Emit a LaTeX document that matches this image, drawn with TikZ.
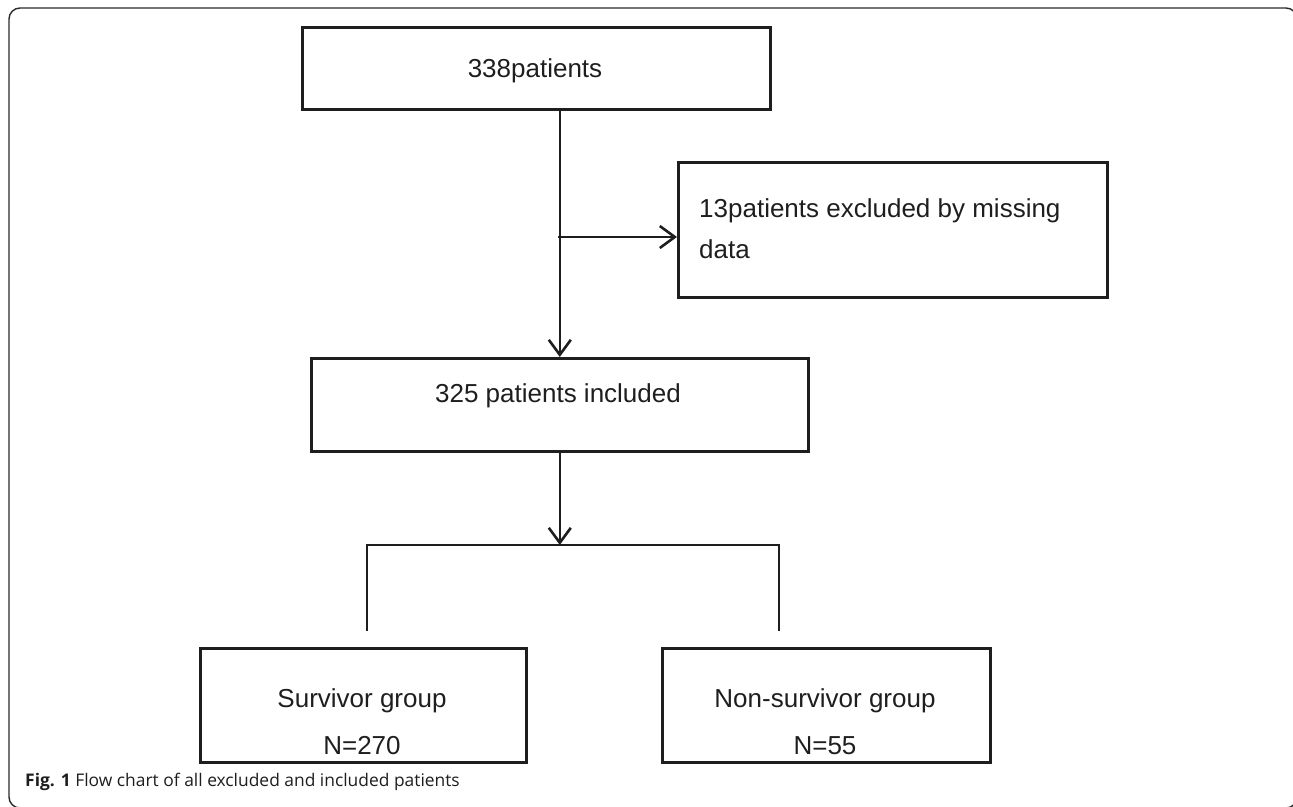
\documentclass[tikz,border=0pt]{standalone}
\usepackage{fontspec}
\setmainfont{Liberation Sans}
\newfontfamily\capfont{Open Sans}
\usetikzlibrary{arrows.meta}
\definecolor{ink}{HTML}{1E1E1E}
\definecolor{framec}{HTML}{2A2A2A}
\begin{document}
\begin{tikzpicture}[x=1pt,y=-1pt,
  box/.style={draw=ink, line width=2.6pt, inner sep=0pt, anchor=north west},
  txt/.style={text=ink, font=\fontsize{26}{30}\selectfont, anchor=base, inner sep=0pt},
  ltxt/.style={txt, anchor=base west},
  conn/.style={draw=ink, line width=2.6pt},
  arr/.style={conn, -{Straight Barb[length=15pt,width=22pt,line width=2.6pt]}}]
\useasboundingbox (0,0) rectangle (1293,806);
\clip (0,0) rectangle (1293,806);
\draw[framec, line width=1.4pt, rounded corners=11pt] (9,8) rectangle (1297,808);

% boxes
\node[box, minimum width=468pt, minimum height=82pt]  (b1) at (301,26) {};
\node[box, minimum width=429pt, minimum height=135pt] (b2) at (677,161) {};
\node[box, minimum width=497pt, minimum height=93pt]  (b3) at (310,357) {};
\node[box, minimum width=326pt, minimum height=114pt] (b4) at (199,647) {};
\node[box, minimum width=328pt, minimum height=114pt] (b5) at (661,647) {};

% texts
\node[txt]  (t1)  at (535,77)  {338patients};
\node[ltxt] (t2a) at (699,217) {13patients excluded by missing};
\node[ltxt] (t2b) at (699,258) {data};
\node[txt]  (t3)  at (558,402) {325 patients included};
\node[txt]  (t4a) at (362,707) {Survivor group};
\node[txt]  (t4b) at (362,754) {N=270};
\node[txt]  (t5a) at (825,707) {Non-survivor group};
\node[txt]  (t5b) at (825,754) {N=55};
\node[anchor=base west, inner sep=0pt, text=ink, font=\capfont\fontsize{17.4}{20}\selectfont] (cap) at (25,786)
  {\textbf{Fig. 1} Flow chart of all excluded and included patients};

% connectors
\coordinate (jn) at (558,237);
\coordinate (bl) at (367,545);
\coordinate (brr) at (779,545);
\coordinate (bld) at (367,631);
\coordinate (brd) at (779,631);
\draw[arr] (b1.south -| b3.north) -- (b3.north);
\draw[arr] (jn) -- (jn -| b2.west);
\draw[arr] (b3.south) -- (b3.south |- bl);
\draw[conn] (bld) -- (bl) -- (brr) -- (brd);
\end{tikzpicture}
\end{document}
